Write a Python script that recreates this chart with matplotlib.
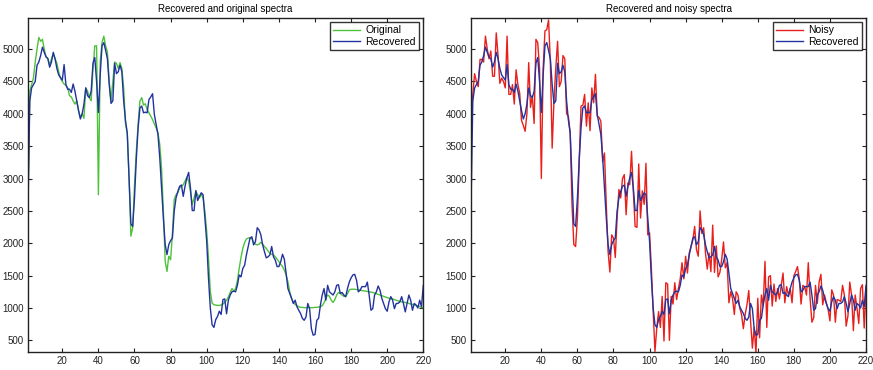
import numpy as np
import matplotlib
matplotlib.use("Agg")
import matplotlib.pyplot as plt

plt.rcParams['font.family'] = ['Liberation Sans', 'DejaVu Sans']

recovered = [2550, 4200, 4400, 4450, 4500, 4750, 4800, 4900, 5030, 4950,
             4880, 4850, 4720, 4800, 4950, 4850, 4700, 4600, 4560, 4520,
             4760, 4450, 4380, 4380, 4330, 4460, 4350, 4200, 4050, 3920,
             4000, 4150, 4400, 4280, 4250, 4350, 4780, 4870, 4500, 4020,
             4600, 5050, 5100, 4980, 4850, 4450, 4160, 4200, 4780, 4620,
             4650, 4750, 4650, 4200, 3900, 3700, 3000, 2300, 2260, 2700,
             3300, 3780, 4090, 4120, 4015, 4025, 4015, 4220, 4260, 4310,
             3990, 3835, 3680, 3320, 2855, 2390, 1980, 1825, 1980, 2040,
             2080, 2495, 2700, 2800, 2880, 2900, 2725, 2880, 3010, 3095,
             2855, 2505, 2505, 2815, 2660, 2725, 2780, 2750, 2390, 2030,
             1460, 1000, 740, 700, 820, 870, 950, 900, 1130, 1140,
             910, 1120, 1200, 1250, 1260, 1250, 1350, 1510, 1480, 1610,
             1660, 1820, 1950, 2080, 2100, 1975, 2025, 2240, 2205, 2130,
             1975, 1870, 1775, 1790, 1820, 1950, 1790, 1740, 1640, 1640,
             1715, 1830, 1755, 1535, 1300, 1225, 1150, 1070, 1120, 1020,
             965, 915, 840, 810, 860, 1070, 990, 680, 580, 590,
             810, 840, 1045, 1200, 1300, 1120, 1350, 1250, 1225, 1200,
             1250, 1350, 1360, 1225, 1240, 1200, 1175, 1300, 1400, 1465,
             1510, 1520, 1430, 1250, 1275, 1330, 1330, 1330, 1400, 1200,
             965, 990, 1200, 1250, 1340, 1275, 1150, 1070, 990, 950,
             1095, 1175, 1120, 990, 1070, 1070, 1095, 1175, 1070, 940,
             1070, 1200, 1120, 965, 1070, 1045, 1000, 1120, 1020, 1350]

original = [2700, 4350, 4450, 4550, 4800, 5000, 5180, 5120, 5150, 5000,
            4880, 4860, 4750, 4850, 4920, 4850, 4780, 4650, 4550, 4500,
            4460, 4440, 4400, 4280, 4260, 4200, 4150, 4200, 4050, 3950,
            4000, 3930, 4400, 4350, 4250, 4200, 4700, 5050, 5050, 2750,
            4800, 5100, 5200, 5050, 4950, 4500, 4200, 4500, 4800, 4780,
            4700, 4790, 4700, 4400, 3850, 3700, 3000, 2110, 2240, 2900,
            3420, 3835, 4195, 4250, 4135, 4155, 4065, 4015, 3965, 3910,
            3845, 3780, 3705, 3525, 3160, 2490, 1720, 1565, 1800, 1745,
            2135, 2675, 2750, 2780, 2855, 2880, 2905, 2960, 3020, 2960,
            2800, 2600, 2700, 2800, 2750, 2700, 2760, 2700, 2490, 2185,
            1770, 1255, 1075, 1050, 1045, 1040, 1040, 1045, 1060, 1090,
            1120, 1170, 1240, 1300, 1260, 1300, 1420, 1610, 1780, 1920,
            2010, 2065, 2080, 2085, 2075, 2015, 1985, 1975, 1985, 2015,
            1985, 1950, 1920, 1880, 1845, 1830, 1820, 1790, 1755, 1715,
            1675, 1640, 1585, 1510, 1405, 1250, 1150, 1085, 1055, 1035,
            1020, 1010, 1010, 1005, 1005, 1005, 1005, 1005, 1005, 1010,
            1010, 1015, 1020, 1035, 1080, 1150, 1200, 1180, 1120, 1085,
            1130, 1200, 1240, 1225, 1200, 1180, 1175, 1220, 1280, 1290,
            1290, 1290, 1285, 1280, 1275, 1270, 1265, 1260, 1255, 1250,
            1245, 1240, 1230, 1220, 1210, 1200, 1190, 1180, 1170, 1160,
            1150, 1145, 1140, 1130, 1120, 1110, 1100, 1095, 1090, 1085,
            1080, 1070, 1060, 1055, 1050, 1040, 1030, 1020, 1010, 1000]

noisy = [3850, 4300, 4620, 4500, 4420, 4840, 4840, 4800, 5200, 5000,
         4850, 4970, 4580, 4580, 5250, 4900, 4470, 4550, 4500, 4400,
         5200, 4300, 4300, 4450, 4150, 4680, 4450, 4320, 3900, 3820,
         3730, 4000, 4790, 4100, 4280, 3850, 5150, 5100, 4700, 3000,
         4700, 5280, 5300, 5450, 4800, 3470, 4200, 4700, 5120, 4420,
         4500, 4900, 4850, 4000, 3960, 3700, 2600, 1980, 1950, 2390,
         3270, 4120, 4130, 4300, 3810, 4170, 3740, 4400, 4170, 4610,
         3960, 3945, 3885, 3255, 3395, 2600, 1875, 1555, 2130, 2080,
         1780, 2390, 2830, 2700, 3000, 3060, 2440, 2930, 2905, 3420,
         2800, 2260, 2245, 3225, 2390, 2810, 2600, 3235, 2130, 2160,
         1615, 945, 330, 690, 945, 700, 1180, 490, 1390, 1370,
         500, 1180, 1060, 1390, 1130, 1300, 1450, 1700, 1450, 1800,
         1540, 1850, 1950, 2050, 2260, 1900, 1800, 2500, 2150, 2240,
         1850, 1600, 1850, 1560, 2280, 1550, 1960, 1480, 1550, 1750,
         2020, 1620, 1700, 1080, 1250, 1150, 900, 1250, 1200, 1000,
         900, 680, 900, 1050, 1270, 800, 380, 700, 300, 1150,
         540, 1200, 1030, 1720, 700, 1480, 1500, 1030, 1370, 1100,
         1300, 1140, 1350, 1540, 1080, 1330, 1200, 1300, 1080, 1500,
         1560, 1640, 1450, 1060, 1350, 1330, 1200, 1700, 1150, 780,
         850, 1350, 1070, 1400, 1520, 1050, 1200, 1080, 980, 800,
         1280, 1200, 780, 1130, 1120, 1100, 1350, 1200, 720, 880,
         1400, 1200, 650, 1200, 1000, 760, 1300, 1360, 690, 1300]

band = np.arange(1, len(recovered) + 1)
x_ticks = list(range(20, 221, 20))
y_ticks = list(range(500, 5001, 500))
titles = ["Recovered and original spectra", "Recovered and noisy spectra"]

c_green = '#4ec23a'
c_blue = '#2233a0'
c_red = '#e8201c'

fig = plt.figure(figsize=(8.73, 3.70), dpi=100)
ax1 = fig.add_axes([28/873, 1-352/370, (423.3-28)/873, (352-18)/370])
ax2 = fig.add_axes([471/873, 1-352/370, (866-471)/873, (352-18)/370])

ax1.plot(band, original, color=c_green, lw=1.0, label='Original')
ax1.plot(band, recovered, color=c_blue, lw=1.0, label='Recovered')
ax2.plot(band, noisy, color=c_red, lw=1.0, label='Noisy')
ax2.plot(band, recovered, color=c_blue, lw=1.0, label='Recovered')

for ax, t in zip([ax1, ax2], titles):
    ax.set_xlim(1, 220)
    ax.set_ylim(320, 5480)
    ax.set_xticks(x_ticks)
    ax.set_yticks(y_ticks)
    ax.tick_params(direction='in', top=True, right=True, labelsize=7,
                   length=3, width=0.8, colors='#222222', pad=3)
    for s in ax.spines.values():
        s.set_linewidth(1.0)
        s.set_color('#222222')
    ax.set_title(t, fontsize=7, pad=4)
    leg = ax.legend(loc='upper right', fontsize=7.5, frameon=True, fancybox=False,
                    borderaxespad=0.4, handlelength=2.6, borderpad=0.3,
                    labelspacing=0.15, handletextpad=0.5)
    leg.get_frame().set_edgecolor('black')
    leg.get_frame().set_linewidth(1.0)

fig.savefig('out.png', dpi=100)
